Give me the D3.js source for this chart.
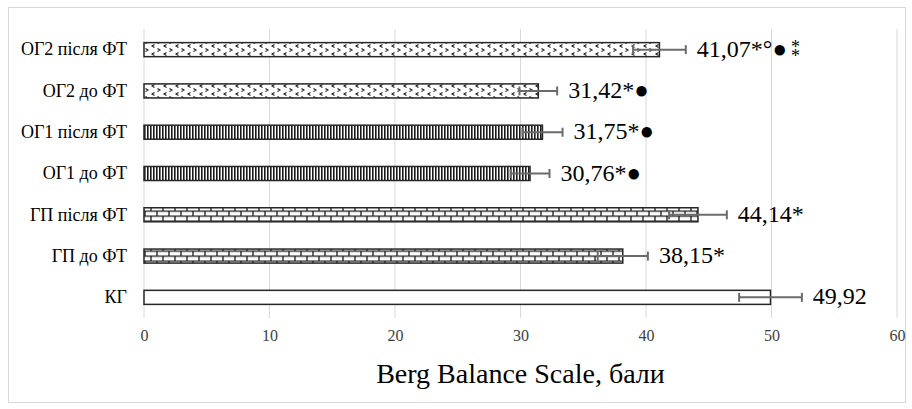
<!DOCTYPE html>
<html>
<head>
<meta charset="utf-8">
<script src="https://cdn.jsdelivr.net/npm/d3@7"></script>
<style>
  html, body { margin: 0; padding: 0; background: #fff; }
  svg { display: block; }
  svg text { font-family: "Liberation Serif", "DejaVu Serif", serif; }
</style>
</head>
<body>
<svg id="chart" width="912" height="409"></svg>
<script>
// Groups, top to bottom
const categories = ["ОГ2 після ФТ", "ОГ2 до ФТ", "ОГ1 після ФТ", "ОГ1 до ФТ", "ГП після ФТ", "ГП до ФТ", "КГ"];
// Mean Berg Balance Scale score per group
const values = [41.07, 31.42, 31.75, 30.76, 44.14, 38.15, 49.92];
// Error bar half-widths
const errors = [2.1, 1.5, 1.6, 1.55, 2.3, 2.0, 2.5];
// Significance marks after each value
const marks = ["*°●", "*●", "*●", "*●", "*", "*", ""];
const stackedMarks = [true, false, false, false, false, false, false];
// Fill pattern per group
const fills = ["og2", "og2", "og1", "og1", "gp", "gp", "kg"];
const xTicks = [0, 10, 20, 30, 40, 50, 60];
const axisTitle = "Berg Balance Scale, бали";

const svg = d3.select("#chart");
const serif = '"Liberation Serif", "DejaVu Serif", serif';

// chart frame
svg.append("rect").attr("x", 8.5).attr("y", 7.5).attr("width", 897).attr("height", 395)
  .attr("fill", "#fff").attr("stroke", "#d9d9d9").attr("stroke-width", 1);

const plot = { left: 144, right: 897, top: 29, bottom: 318 };

const x = d3.scaleLinear().domain([0, 60]).range([plot.left, plot.right]);
const y = d3.scaleBand().domain(categories).range([plot.top, plot.bottom]).paddingInner(0.66).paddingOuter(0.33);

// patterns
const defs = svg.append("defs");
const ink = "#1a1a1a";

// chevron pattern
const pOg2 = defs.append("pattern").attr("id", "og2").attr("patternUnits", "userSpaceOnUse")
  .attr("width", 12).attr("height", 8);
pOg2.append("rect").attr("width", 12).attr("height", 8).attr("fill", "#fff");
pOg2.append("path").attr("d", "M1.5,0.5 L4,2 L1.5,3.5").attr("fill", "none").attr("stroke", ink).attr("stroke-width", 1.1);
pOg2.append("path").attr("d", "M10.5,4.5 L8,6 L10.5,7.5").attr("fill", "none").attr("stroke", ink).attr("stroke-width", 1.1);

// narrow vertical lines
const pOg1 = defs.append("pattern").attr("id", "og1").attr("patternUnits", "userSpaceOnUse")
  .attr("width", 3).attr("height", 3);
pOg1.append("rect").attr("width", 3).attr("height", 3).attr("fill", "#fff");
pOg1.append("rect").attr("x", 0).attr("width", 1.6).attr("height", 3).attr("fill", ink);

// horizontal brick
const pGp = defs.append("pattern").attr("id", "gp").attr("patternUnits", "userSpaceOnUse")
  .attr("width", 12).attr("height", 10).attr("y", 0.5);
pGp.append("rect").attr("width", 12).attr("height", 10).attr("fill", "#fff");
pGp.append("path")
  .attr("d", "M0,0.6 H12 M0,5.6 H12 M1,0.6 V5.6 M7,5.6 V10.6")
  .attr("stroke", ink).attr("stroke-width", 1.3).attr("fill", "none");

defs.append("pattern").attr("id", "kg").attr("patternUnits", "userSpaceOnUse")
  .attr("width", 4).attr("height", 4)
  .append("rect").attr("width", 4).attr("height", 4).attr("fill", "#fff");

// gridlines
svg.append("g").selectAll("line").data(xTicks).join("line")
  .attr("x1", d => x(d)).attr("x2", d => x(d))
  .attr("y1", plot.top).attr("y2", plot.bottom)
  .attr("stroke", "#d9d9d9").attr("stroke-width", 1);

// x axis labels
const xAxis = d3.axisBottom(x).tickValues(xTicks).tickSize(0).tickPadding(0);
const gx = svg.append("g").attr("transform", `translate(0,${plot.bottom + 12})`).call(xAxis);
gx.attr("font-family", null);
gx.select(".domain").remove();
gx.selectAll("text").style("font-family", serif).style("font-size", "16px").attr("fill", "#404040")
  .attr("dy", "0.71em");

// y axis labels
const yAxis = d3.axisLeft(y).tickSize(0).tickPadding(0);
const gy = svg.append("g").attr("transform", `translate(${plot.left - 17},0)`).call(yAxis);
gy.attr("font-family", null);
gy.select(".domain").remove();
gy.selectAll("text").style("font-family", serif).style("font-size", "18px").attr("fill", "#000");

// bars
const rows = categories.map((c, i) => ({ c, v: values[i], e: errors[i], m: marks[i], s: stackedMarks[i], f: fills[i] }));

svg.append("g").selectAll("rect").data(rows).join("rect")
  .attr("x", x(0))
  .attr("y", d => y(d.c))
  .attr("width", d => x(d.v) - x(0))
  .attr("height", y.bandwidth())
  .attr("fill", d => `url(#${d.f})`)
  .attr("stroke", "#262626").attr("stroke-width", 1.5);

// error bars
const eb = svg.append("g").attr("stroke", "#6b6b6b").attr("stroke-width", 2);
rows.forEach(d => {
  const cy = y(d.c) + y.bandwidth() / 2;
  eb.append("line").attr("x1", x(d.v - d.e)).attr("x2", x(d.v + d.e)).attr("y1", cy).attr("y2", cy);
  eb.append("line").attr("x1", x(d.v - d.e)).attr("x2", x(d.v - d.e)).attr("y1", cy - 4.5).attr("y2", cy + 4.5);
  eb.append("line").attr("x1", x(d.v + d.e)).attr("x2", x(d.v + d.e)).attr("y1", cy - 4.5).attr("y2", cy + 4.5);
});

// value labels
const fmt = v => d3.format(".2f")(v).replace(".", ",");
const lab = svg.append("g");
rows.forEach(d => {
  const cy = y(d.c) + y.bandwidth() / 2;
  const lx = x(d.v + d.e) + 11;
  const t = lab.append("text").attr("x", lx).attr("y", cy + 7)
    .style("font-family", serif).style("font-size", "24px").attr("fill", "#000")
    .text(fmt(d.v) + d.m);
  if (d.s) {
    // two asterisks stacked one above the other
    const w = t.node().getComputedTextLength();
    const st = lab.append("text").style("font-family", serif).style("font-size", "18px");
    st.append("tspan").attr("x", lx + w + 4).attr("y", cy + 3).text("*");
    st.append("tspan").attr("x", lx + w + 4).attr("y", cy + 12).text("*");
  }
});

// axis title
svg.append("text").attr("x", (plot.left + plot.right) / 2).attr("y", 383)
  .attr("text-anchor", "middle").style("font-family", serif).style("font-size", "28px")
  .attr("fill", "#000").text(axisTitle);
</script>
</body>
</html>
